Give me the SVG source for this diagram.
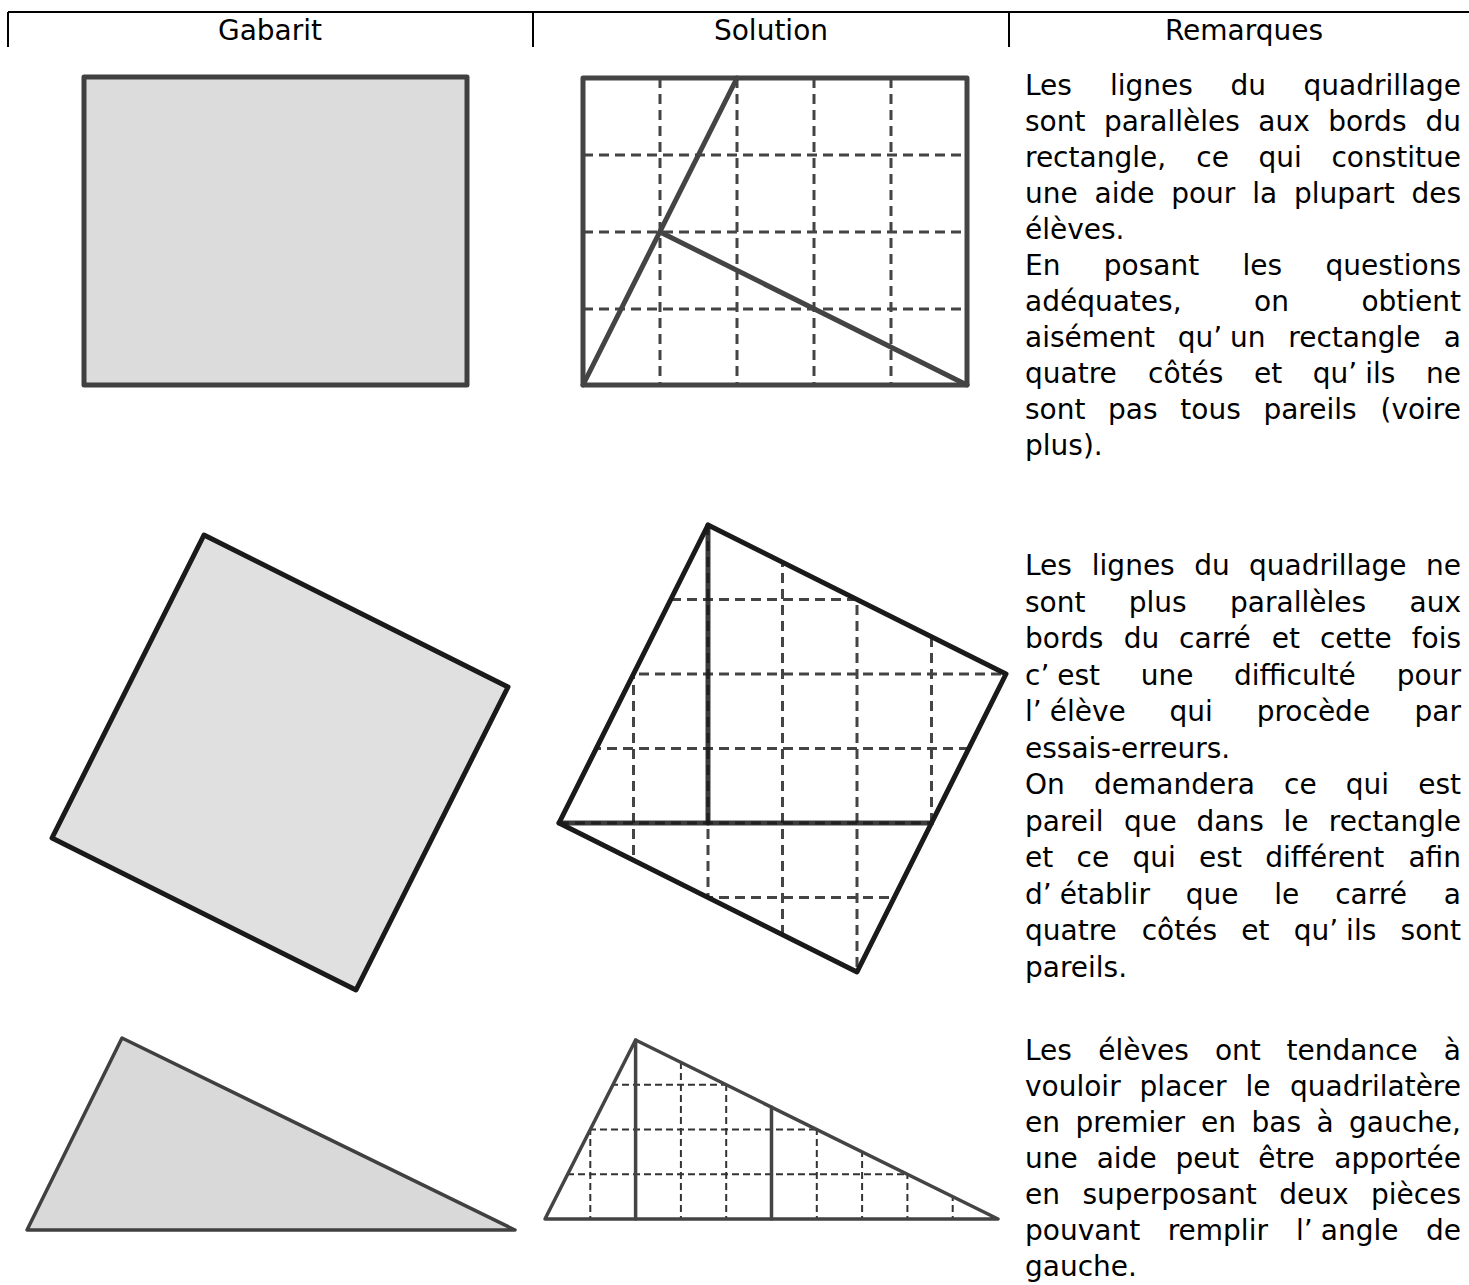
<svg xmlns="http://www.w3.org/2000/svg" width="1469" height="1285" viewBox="0 0 1469 1285">
<defs>
<style>
text{font-family:"DejaVu Sans","Liberation Sans",sans-serif;font-size:28px;fill:#000}
.hd{text-anchor:middle}
.e{text-anchor:end}
.rule{stroke:#000;stroke-width:2;fill:none}
.gab1{fill:#dcdcdc;stroke:#404040;stroke-width:5;stroke-linejoin:round}
.gab2{fill:#e0e0e0;stroke:#1a1a1a;stroke-width:5;stroke-linejoin:round}
.gab3{fill:#d9d9d9;stroke:#404040;stroke-width:3.5;stroke-linejoin:round}
.d1{stroke:#444;stroke-width:3;stroke-dasharray:10 6;fill:none}
.d2{stroke:#444;stroke-width:3;stroke-dasharray:10 6;fill:none}
.d3{stroke:#333;stroke-width:2;stroke-dasharray:7 4;fill:none}
.s1{stroke:#444;stroke-width:5;fill:none;stroke-linecap:round;stroke-linejoin:round}
.s2{stroke:#1a1a1a;stroke-width:5;fill:none;stroke-linecap:round;stroke-linejoin:round}
.s3{stroke:#444;stroke-width:3.5;fill:none;stroke-linecap:round;stroke-linejoin:round}
</style>
<clipPath id="cpSq"><polygon points="708,525 1006,674 857,972 559,823"/></clipPath>
<clipPath id="cpTr"><polygon points="545,1219 635.6,1040 998,1219"/></clipPath>
</defs>
<rect width="1469" height="1285" fill="#fff"/>

<g id="header">
<line class="rule" x1="8" y1="12" x2="1469" y2="12"/>
<line class="rule" x1="8" y1="12" x2="8" y2="47"/>
<line class="rule" x1="533" y1="12" x2="533" y2="47"/>
<line class="rule" x1="1009" y1="12" x2="1009" y2="47"/>
<text class="hd" x="270" y="40">Gabarit</text>
<text class="hd" x="771" y="40">Solution</text>
<text class="hd" x="1244" y="40">Remarques</text>
</g>

<g id="gabarit-rectangle">
<rect class="gab1" x="84" y="77" width="383" height="308"/>
</g>

<g id="solution-rectangle">
<g class="d1">
<line x1="660" y1="78" x2="660" y2="385"/>
<line x1="737" y1="78" x2="737" y2="385"/>
<line x1="814" y1="78" x2="814" y2="385"/>
<line x1="891" y1="78" x2="891" y2="385"/>
<line x1="583" y1="155" x2="967" y2="155"/>
<line x1="583" y1="232" x2="967" y2="232"/>
<line x1="583" y1="309" x2="967" y2="309"/>
</g>
<rect class="s1" x="583" y="78" width="384" height="307"/>
<polyline class="s1" points="737,78 583,385"/>
<polyline class="s1" points="660,232 967,385"/>
</g>

<g id="gabarit-carre">
<polygon class="gab2" points="204,535 508,687 356,990 52,838"/>
</g>

<g id="solution-carre">
<g class="d2" clip-path="url(#cpSq)">
<line x1="633.5" y1="525" x2="633.5" y2="972"/>
<line x1="708" y1="525" x2="708" y2="972"/>
<line x1="782.5" y1="525" x2="782.5" y2="972"/>
<line x1="857" y1="525" x2="857" y2="972"/>
<line x1="931.5" y1="525" x2="931.5" y2="972"/>
<line x1="559" y1="599.5" x2="1006" y2="599.5"/>
<line x1="559" y1="674" x2="1006" y2="674"/>
<line x1="559" y1="748.5" x2="1006" y2="748.5"/>
<line x1="559" y1="823" x2="1006" y2="823"/>
<line x1="559" y1="897.5" x2="1006" y2="897.5"/>
</g>
<polyline class="s2" points="708,525 708,823" opacity="0.85"/>
<polyline class="s2" points="559,823 931.5,823" opacity="0.85"/>
<polygon class="s2" points="708,525 1006,674 857,972 559,823"/>
</g>

<g id="gabarit-triangle">
<polygon class="gab3" points="27,1230 122,1038 515,1230"/>
</g>

<g id="solution-triangle">
<g class="d3" clip-path="url(#cpTr)">
<line x1="590.3" y1="1040" x2="590.3" y2="1219"/>
<line x1="680.9" y1="1040" x2="680.9" y2="1219"/>
<line x1="726.2" y1="1040" x2="726.2" y2="1219"/>
<line x1="816.8" y1="1040" x2="816.8" y2="1219"/>
<line x1="862.1" y1="1040" x2="862.1" y2="1219"/>
<line x1="907.4" y1="1040" x2="907.4" y2="1219"/>
<line x1="952.7" y1="1040" x2="952.7" y2="1219"/>
<line x1="545" y1="1174.25" x2="998" y2="1174.25"/>
<line x1="545" y1="1129.5" x2="998" y2="1129.5"/>
<line x1="545" y1="1084.75" x2="998" y2="1084.75"/>
</g>
<polyline class="s3" points="635.6,1040 635.6,1219"/>
<polyline class="s3" points="771.5,1107 771.5,1219"/>
<polygon class="s3" points="545,1219 635.6,1040 998,1219"/>
</g>

<g id="remarque-1">
<text y="95"><tspan x="1025">Les</tspan><tspan x="1110">lignes</tspan><tspan x="1230.4">du</tspan><tspan class="e" x="1461">quadrillage</tspan></text>
<text y="131"><tspan x="1025">sont</tspan><tspan x="1103.9">parallèles</tspan><tspan x="1258.3">aux</tspan><tspan x="1328.2">bords</tspan><tspan class="e" x="1461">du</tspan></text>
<text y="167"><tspan x="1025">rectangle,</tspan><tspan x="1196.3">ce</tspan><tspan x="1258.5">qui</tspan><tspan class="e" x="1461">constitue</tspan></text>
<text y="203"><tspan x="1025">une</tspan><tspan x="1094.5">aide</tspan><tspan x="1171.2">pour</tspan><tspan x="1252.2">la</tspan><tspan x="1293.9">plupart</tspan><tspan class="e" x="1461">des</tspan></text>
<text x="1025" y="239">élèves.</text>
<text y="275"><tspan x="1025">En</tspan><tspan x="1103.8">posant</tspan><tspan x="1242.5">les</tspan><tspan class="e" x="1461">questions</tspan></text>
<text y="311"><tspan x="1025">adéquates,</tspan><tspan x="1254">on</tspan><tspan class="e" x="1461">obtient</tspan></text>
<text y="347"><tspan x="1025">aisément</tspan><tspan x="1177.7">qu’<tspan dx="8">un</tspan></tspan><tspan x="1288.3">rectangle</tspan><tspan class="e" x="1461">a</tspan></text>
<text y="383"><tspan x="1025">quatre</tspan><tspan x="1148">côtés</tspan><tspan x="1254">et</tspan><tspan x="1312.8">qu’<tspan dx="8">ils</tspan></tspan><tspan class="e" x="1461">ne</tspan></text>
<text y="419"><tspan x="1025">sont</tspan><tspan x="1108.1">pas</tspan><tspan x="1180.3">tous</tspan><tspan x="1263.4">pareils</tspan><tspan class="e" x="1461">(voire</tspan></text>
<text x="1025" y="455">plus).</text>
</g>

<g id="remarque-2">
<text y="575"><tspan x="1025">Les</tspan><tspan x="1091.8">lignes</tspan><tspan x="1194.2">du</tspan><tspan x="1249.1">quadrillage</tspan><tspan class="e" x="1461">ne</tspan></text>
<text y="611.5"><tspan x="1025">sont</tspan><tspan x="1128.8">plus</tspan><tspan x="1230.1">parallèles</tspan><tspan class="e" x="1461">aux</tspan></text>
<text y="648"><tspan x="1025">bords</tspan><tspan x="1123.7">du</tspan><tspan x="1179.1">carré</tspan><tspan x="1271.8">et</tspan><tspan x="1319.9">cette</tspan><tspan class="e" x="1461">fois</tspan></text>
<text y="684.5"><tspan x="1025">c’<tspan dx="8">est</tspan></tspan><tspan x="1140.7">une</tspan><tspan x="1234">difficulté</tspan><tspan class="e" x="1461">pour</tspan></text>
<text y="721"><tspan x="1025">l’<tspan dx="8">élève</tspan></tspan><tspan x="1169.5">qui</tspan><tspan x="1256.7">procède</tspan><tspan class="e" x="1461">par</tspan></text>
<text x="1025" y="757.5">essais-erreurs.</text>
<text y="794"><tspan x="1025">On</tspan><tspan x="1094">demandera</tspan><tspan x="1284">ce</tspan><tspan x="1345.8">qui</tspan><tspan class="e" x="1461">est</tspan></text>
<text y="830.5"><tspan x="1025">pareil</tspan><tspan x="1124">que</tspan><tspan x="1196.5">dans</tspan><tspan x="1283.5">le</tspan><tspan class="e" x="1461">rectangle</tspan></text>
<text y="867"><tspan x="1025">et</tspan><tspan x="1076.5">ce</tspan><tspan x="1132.5">qui</tspan><tspan x="1199.1">est</tspan><tspan x="1265.2">différent</tspan><tspan class="e" x="1461">afin</tspan></text>
<text y="903.5"><tspan x="1025">d’<tspan dx="8">établir</tspan></tspan><tspan x="1185.7">que</tspan><tspan x="1274.3">le</tspan><tspan x="1335.2">carré</tspan><tspan class="e" x="1461">a</tspan></text>
<text y="940"><tspan x="1025">quatre</tspan><tspan x="1141.7">côtés</tspan><tspan x="1241.2">et</tspan><tspan x="1293.7">qu’<tspan dx="8">ils</tspan></tspan><tspan class="e" x="1461">sont</tspan></text>
<text x="1025" y="976.5">pareils.</text>
</g>

<g id="remarque-3">
<text y="1060"><tspan x="1025">Les</tspan><tspan x="1098.3">élèves</tspan><tspan x="1214.9">ont</tspan><tspan x="1286.6">tendance</tspan><tspan class="e" x="1461">à</tspan></text>
<text y="1096"><tspan x="1025">vouloir</tspan><tspan x="1139.6">placer</tspan><tspan x="1245.4">le</tspan><tspan class="e" x="1461">quadrilatère</tspan></text>
<text y="1132"><tspan x="1025">en</tspan><tspan x="1075.4">premier</tspan><tspan x="1201.1">en</tspan><tspan x="1251.5">bas</tspan><tspan x="1316.4">à</tspan><tspan class="e" x="1461">gauche,</tspan></text>
<text y="1168"><tspan x="1025">une</tspan><tspan x="1096.7">aide</tspan><tspan x="1175.6">peut</tspan><tspan x="1258.3">être</tspan><tspan class="e" x="1461">apportée</tspan></text>
<text y="1204"><tspan x="1025">en</tspan><tspan x="1082.5">superposant</tspan><tspan x="1279.2">deux</tspan><tspan class="e" x="1461">pièces</tspan></text>
<text y="1240"><tspan x="1025">pouvant</tspan><tspan x="1167.7">remplir</tspan><tspan x="1296.1">l’<tspan dx="8">angle</tspan></tspan><tspan class="e" x="1461">de</tspan></text>
<text x="1025" y="1276">gauche.</text>
</g>
</svg>
